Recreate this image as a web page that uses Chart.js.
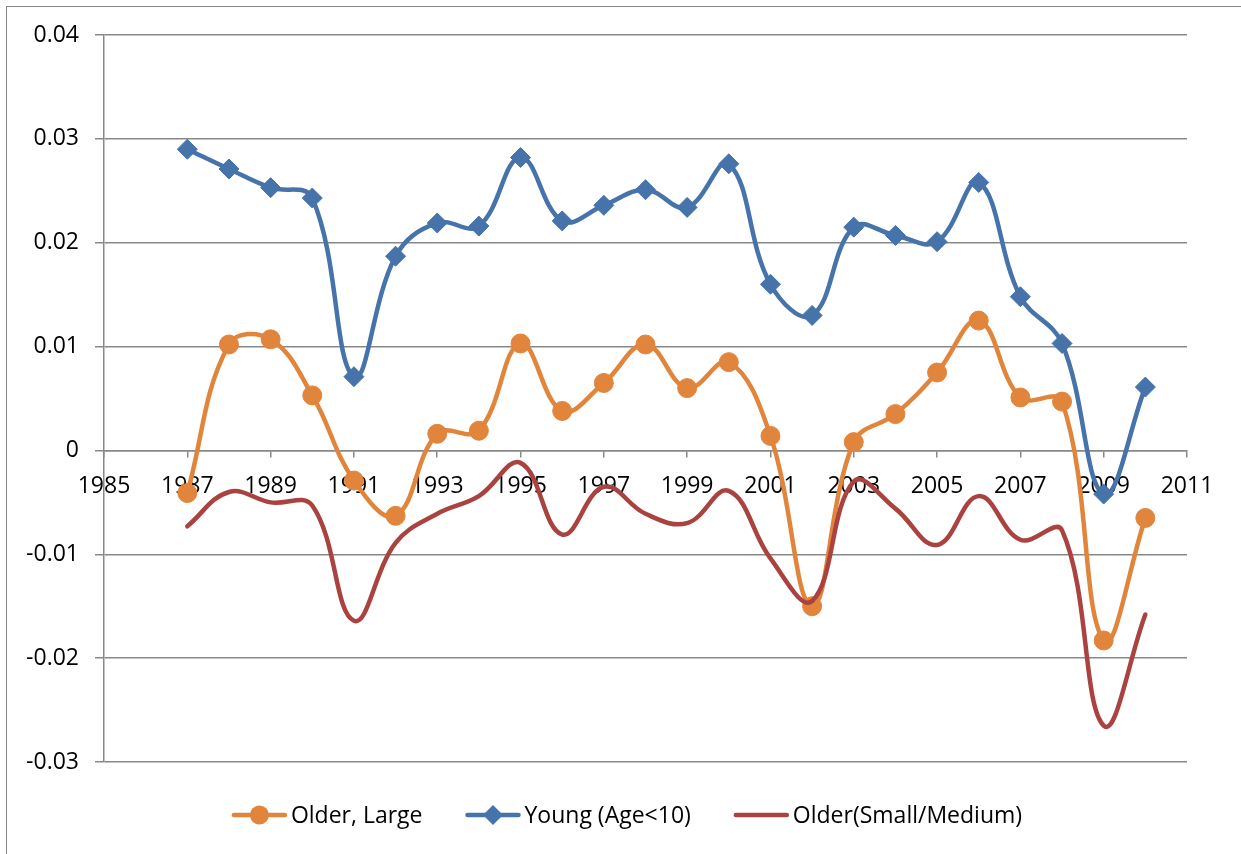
<!DOCTYPE html>
<html>
<head>
<meta charset="utf-8">
<script src="https://cdn.jsdelivr.net/npm/chart.js@4.4.1/dist/chart.umd.min.js"></script>
<style>
  html, body { margin: 0; padding: 0; background: #fff; overflow: hidden; }
  #wrap { position: relative; width: 1241px; height: 854px; overflow: hidden; }
  #frame { position: absolute; left: 6px; top: 6px; width: 1280px; height: 900px;
           border: 1.5px solid #868686; box-sizing: border-box; }
  #c { position: absolute; left: 0; top: 0; }
</style>
</head>
<body>
<div id="wrap">
  <div id="frame"></div>
  <canvas id="c" width="1241" height="854"></canvas>
</div>
<script>
// Years on the horizontal axis
const years = [1987, 1988, 1989, 1990, 1991, 1992, 1993, 1994, 1995, 1996, 1997, 1998,
               1999, 2000, 2001, 2002, 2003, 2004, 2005, 2006, 2007, 2008, 2009, 2010];

// Series values
const olderLarge = [-0.0041, 0.0102, 0.0107, 0.0053, -0.0029, -0.0063, 0.0016, 0.0019,
                    0.0103, 0.0038, 0.0065, 0.0102, 0.0060, 0.0085, 0.0014, -0.0150,
                    0.0008, 0.0035, 0.0075, 0.0125, 0.0051, 0.0047, -0.0183, -0.0065];
const young = [0.0290, 0.0271, 0.0253, 0.0243, 0.0071, 0.0187, 0.0219, 0.0216,
               0.0282, 0.0221, 0.0236, 0.0251, 0.0234, 0.0276, 0.0160, 0.0130,
               0.0215, 0.0207, 0.0201, 0.0258, 0.0148, 0.0103, -0.0042, 0.0061];
const olderSmallMedium = [-0.0073, -0.0040, -0.0050, -0.0053, -0.0164, -0.0089, -0.0061, -0.0044,
                          -0.0012, -0.0081, -0.0035, -0.0061, -0.0070, -0.0039, -0.0104, -0.0145,
                          -0.0030, -0.0056, -0.0091, -0.0044, -0.0086, -0.0077, -0.0265, -0.0158];

// Tick values
const xTicks = [1985, 1987, 1989, 1991, 1993, 1995, 1997, 1999, 2001, 2003, 2005, 2007, 2009, 2011];
const yTicks = [-0.03, -0.02, -0.01, 0, 0.01, 0.02, 0.03, 0.04];

const seriesNames = ['Older, Large', 'Young (Age<10)', 'Older(Small/Medium)'];

const FONT = '"Open Sans", "Noto Sans", sans-serif';
const GRID = '#888888';
const ORANGE = '#E0853B';
const BLUE = '#4673A9';
const RED = '#AA433F';

const toPoints = vals => years.map((yr, i) => ({ x: yr, y: vals[i] }));

// Legend drawn under the plot: line sample with marker, then the series name
const lineLegend = {
  id: 'lineLegend',
  afterDraw(chart) {
    const ctx = chart.ctx;
    const lineLen = 55, textGap = 4, itemGap = 43, y = 815, centerX = 627;
    ctx.save();
    ctx.font = '23px ' + FONT;
    const items = chart.data.datasets.map(ds => ({ ds, w: ctx.measureText(ds.label).width }));
    const total = items.reduce((s, it) => s + lineLen + textGap + it.w, 0) + itemGap * (items.length - 1);
    let x = centerX - total / 2;
    items.forEach(({ ds, w }) => {
      ctx.strokeStyle = ds.borderColor;
      ctx.lineWidth = 4.5;
      ctx.lineCap = 'round';
      ctx.beginPath();
      ctx.moveTo(x + 2, y);
      ctx.lineTo(x + lineLen - 2, y);
      ctx.stroke();
      const mx = x + lineLen / 2;
      ctx.fillStyle = ds.borderColor;
      if (ds.pointStyle === 'circle' && ds.pointRadius > 0) {
        ctx.beginPath();
        ctx.arc(mx, y, ds.pointRadius, 0, Math.PI * 2);
        ctx.fill();
      } else if (ds.pointStyle === 'rectRot' && ds.pointRadius > 0) {
        const r = ds.pointRadius;
        ctx.beginPath();
        ctx.moveTo(mx - r, y);
        ctx.lineTo(mx, y - r);
        ctx.lineTo(mx + r, y);
        ctx.lineTo(mx, y + r);
        ctx.closePath();
        ctx.fill();
      }
      x += lineLen + textGap;
      ctx.fillStyle = '#000';
      ctx.textBaseline = 'middle';
      ctx.textAlign = 'left';
      ctx.fillText(ds.label, x, y + 1);
      x += w + itemGap;
    });
    ctx.restore();
  }
};

new Chart(document.getElementById('c'), {
  type: 'line',
  data: {
    datasets: [
      {
        label: seriesNames[0], data: toPoints(olderLarge),
        borderColor: ORANGE, backgroundColor: ORANGE,
        borderWidth: 4.5, pointStyle: 'circle', pointRadius: 9.5,
        pointBorderWidth: 1, pointBackgroundColor: ORANGE, pointBorderColor: ORANGE,
        tension: 0.4, order: 3
      },
      {
        label: seriesNames[1], data: toPoints(young),
        borderColor: BLUE, backgroundColor: BLUE,
        borderWidth: 4.5, pointStyle: 'rectRot', pointRadius: 10,
        pointBorderWidth: 1, pointBackgroundColor: BLUE, pointBorderColor: BLUE,
        tension: 0.4, order: 2
      },
      {
        label: seriesNames[2], data: toPoints(olderSmallMedium),
        borderColor: RED, backgroundColor: RED,
        borderWidth: 4.5, pointRadius: 0, pointHoverRadius: 0,
        tension: 0.4, order: 1
      }
    ]
  },
  options: {
    responsive: false,
    animation: false,
    events: [],
    layout: { padding: { left: 0, top: 35, right: 54, bottom: 92 } },
    plugins: { legend: { display: false }, tooltip: { enabled: false } },
    elements: { line: { capBezierPoints: false, borderCapStyle: 'round', borderJoinStyle: 'round' } },
    scales: {
      x: {
        type: 'linear',
        position: { y: 0 },
        min: 1985, max: 2011,
        afterBuildTicks: scale => { scale.ticks = xTicks.map(v => ({ value: v })); },
        ticks: {
          autoSkip: false, maxRotation: 0, padding: 16,
          color: '#000', font: { family: FONT, size: 23 },
          callback: v => String(v)
        },
        grid: { drawOnChartArea: false, drawTicks: true, tickLength: 6, color: GRID, lineWidth: 1.5 },
        border: { display: true, color: GRID, width: 1.5 }
      },
      y: {
        type: 'linear',
        position: 'left',
        min: -0.03, max: 0.04,
        afterFit: scale => { scale.width = 104; },
        afterBuildTicks: scale => { scale.ticks = yTicks.map(v => ({ value: v })); },
        ticks: {
          padding: 16, color: '#000', font: { family: FONT, size: 23 },
          callback: v => (v === 0 ? '0' : v.toFixed(2))
        },
        grid: { color: GRID, lineWidth: 1.5, tickLength: 9, drawTicks: true },
        border: { display: true, color: GRID, width: 1.5 }
      }
    }
  },
  plugins: [lineLegend]
});
</script>
</body>
</html>
